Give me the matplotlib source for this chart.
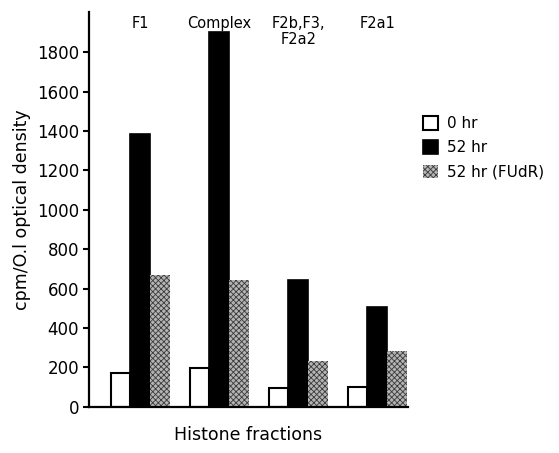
import numpy as np
import matplotlib
matplotlib.use('Agg')
import matplotlib.pyplot as plt

fractions = ['F1', 'Complex', 'F2b,F3,\nF2a2', 'F2a1']
hr0 = [173, 198, 97, 100]
hr52 = [1386, 1903, 642, 507]
hr52_fudr = [670, 645, 233, 284]
series_names = ['0 hr', '52 hr', '52 hr (FUdR)']
yticks = [0, 200, 400, 600, 800, 1000, 1200, 1400, 1600, 1800]

plt.rcParams['hatch.linewidth'] = 0.6
plt.rcParams['hatch.color'] = '#3a3a3a'

fig = plt.figure(figsize=(5.59, 4.53), dpi=100)
ax = fig.add_axes([0.159, 0.102, 0.571, 0.872])

x = np.arange(len(fractions))
w = 0.25
b1 = ax.bar(x - w, hr0, w, color='white', edgecolor='black', linewidth=1.5)
b2 = ax.bar(x, hr52, w, color='black', edgecolor='black', linewidth=1.2)
b3 = ax.bar(x + w, hr52_fudr, w, color='#b4b4b4', edgecolor='#3a3a3a',
            linewidth=0.0, hatch='xxxxxx')

for xi, name in zip(x, fractions):
    ax.text(xi, 1985, name, ha='center', va='top', fontsize=10.5,
            linespacing=1.1)

ax.set_xlim(-0.65, 3.39)
ax.set_ylim(0, 2005)
ax.set_yticks(yticks)
ax.set_yticklabels([str(t) for t in yticks], fontsize=12)
ax.set_xticks([])
ax.spines['top'].set_visible(False)
ax.spines['right'].set_visible(False)
ax.spines['left'].set_linewidth(1.6)
ax.spines['bottom'].set_linewidth(1.6)
ax.tick_params(axis='y', length=4, width=1.5, pad=3)
ax.set_ylabel('cpm/O.l optical density', fontsize=12.5, labelpad=4)
ax.set_xlabel('Histone fractions', fontsize=12.5, labelpad=14)

fig.legend([b1, b2, b3], series_names, loc='upper left',
           bbox_to_anchor=(0.745, 0.757), frameon=False, fontsize=11,
           handlelength=1.0, handleheight=1.0, handletextpad=0.6,
           labelspacing=0.6, borderaxespad=0)

plt.savefig('out.png', dpi=100)
plt.close()
